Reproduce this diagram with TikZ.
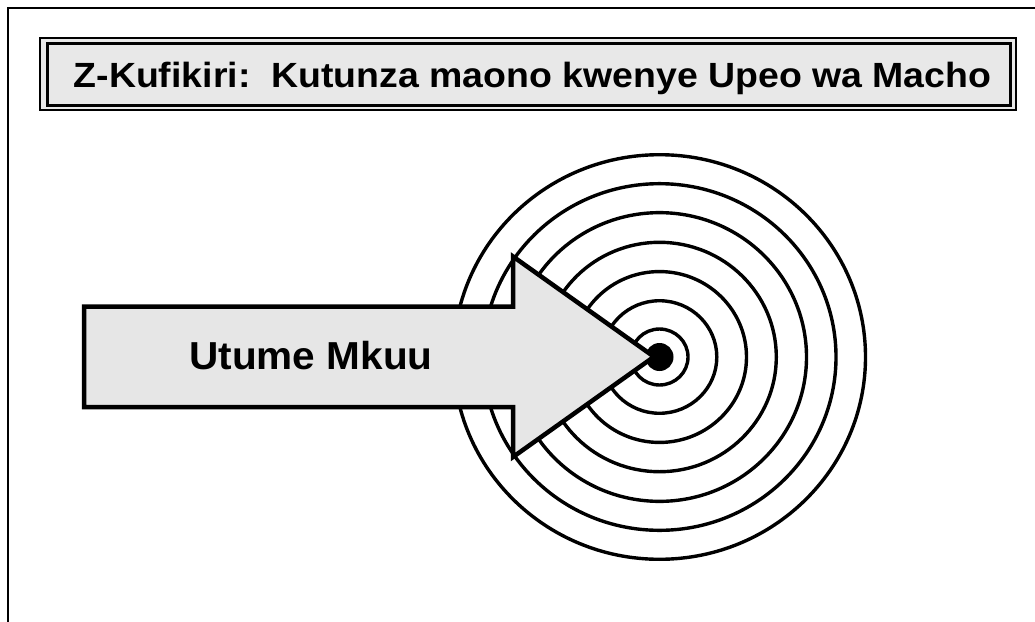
\documentclass[tikz,border=0pt]{standalone}
\usepackage{fontspec}
\usepackage{graphicx}
\setmainfont{Liberation Sans}
\definecolor{boxfill}{HTML}{E8E8E8}
\definecolor{arrowfill}{HTML}{E6E6E6}
\begin{document}
\begin{tikzpicture}[x=1pt,y=-1pt,
  frame/.style={line width=1.6pt,draw=black},
  ring/.style={line width=3.4pt,draw=black},
  titletext/.style={anchor=base,inner sep=0pt,font=\bfseries\fontsize{35}{40}\selectfont},
  arrowtext/.style={anchor=base,inner sep=0pt,font=\bfseries\fontsize{39}{44}\selectfont},
  bigarrow/.style={line width=4.5pt,draw=black,fill=arrowfill,line join=miter}]
\useasboundingbox (0,0) rectangle (1035,621);
% frame (only top and left visible)
\coordinate (fb) at (8,625);
\coordinate (ft) at (8,8);
\coordinate (fr) at (1040,8);
\draw[frame] (fb) -- (ft) -- (fr);
% title box
\draw[line width=2pt,fill=boxfill] (40.3,38.3) rectangle (1016,109.7);
\draw[line width=3pt,fill=boxfill] (47,43.7) rectangle (1010,105.5);
\node[titletext] (title) at (532.5,87.3) {\scalebox{1.07}[1]{Z-Kufikiri:\ \ Kutunza maono kwenye Upeo wa Macho}};
% target rings
\coordinate (c) at (659.5,357);
\foreach \r in {206,176.5,147,116.8,87,57.3,28.5}{
  \draw[ring] (c) ellipse [x radius=\r, y radius=0.982*\r];
}
\fill (c) circle (14);
% arrow
\draw[bigarrow] (84,306.5) -- (513,306.5) -- (513,256.5) -- (654,356.75) -- (513,457) -- (513,407) -- (84,407) -- cycle;
\node[arrowtext] (label) at (311,369) {\scalebox{1.04}[1]{Utume Mkuu}};
\end{tikzpicture}
\end{document}
